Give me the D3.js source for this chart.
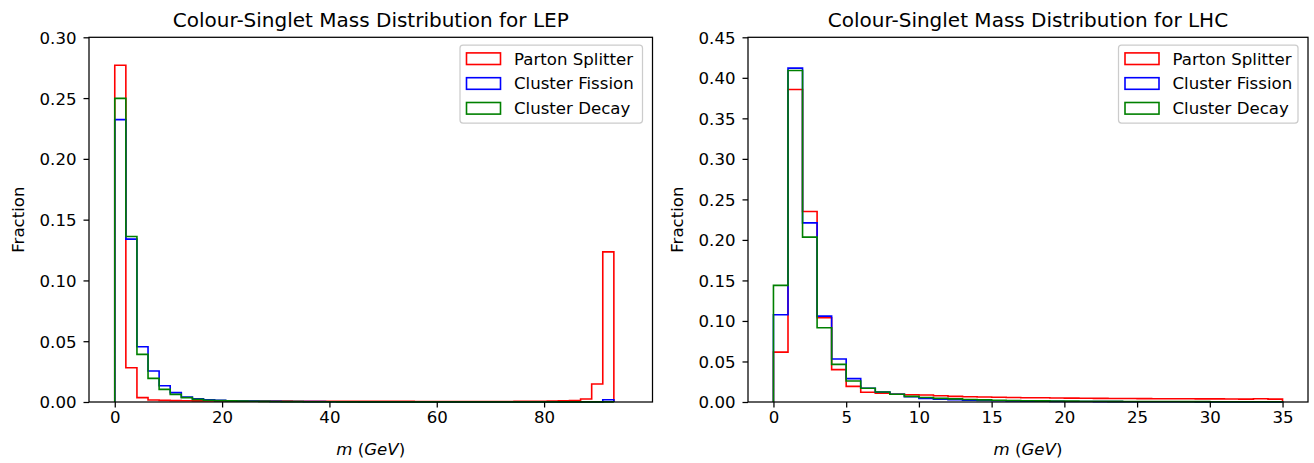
<!DOCTYPE html>
<meta charset="utf-8">
<script src="https://cdn.jsdelivr.net/npm/d3@7"></script>
<style>
body{margin:0;background:#fff;}
svg text{font-family:"DejaVu Sans",sans-serif;fill:#000;}
.tick text{font-size:16.6px;}
.tick line{stroke:#000;stroke-width:1.25;}
</style>
<div id="vis"></div>
<script>

// series names and colours (drawing order)
var seriesNames = ["Parton Splitter", "Cluster Fission", "Cluster Decay"];
var seriesColors = ["#ff0000", "#0000ff", "#008000"];

// LEP: 45 bins from 0 to 93 GeV
var lepBinCount = 45, lepMax = 93;
var lepParton = [0.277, 0.0282, 0.0036, 0.0016, 0.0013, 0.0011, 0.0010, 0.0009, 0.0009, 0.0008,
  0.0008, 0.0008, 0.0007, 0.0007, 0.0007, 0.0007, 0.0006, 0.0006, 0.0006, 0.0006,
  0.0006, 0.0005, 0.0005, 0.0005, 0.0005, 0.0005, 0.0005, 0.0004, 0.0004, 0.0004,
  0.0004, 0.0004, 0.0004, 0.0004, 0.0004, 0.0004, 0.0005, 0.0005, 0.0006, 0.0007,
  0.0009, 0.0012, 0.0025, 0.0148, 0.1235];
var lepFission = [0.2323, 0.134, 0.0455, 0.0255, 0.0134, 0.0077, 0.0041, 0.0027, 0.0018, 0.0013,
  0.0010, 0.0008, 0.0007, 0.0006, 0.0005, 0.0004, 0.0004, 0.0003, 0.0003, 0.0002,
  0.0002, 0.0002, 0.0001, 0.0001, 0.0001, 0.0001, 0.0001, 0.0001, 0.0001, 0.0001,
  0.0001, 0.0001, 0.0001, 0.0001, 0.0001, 0.0001, 0.0001, 0.0001, 0.0001, 0.0001,
  0.0001, 0.0001, 0.0001, 0.0001, 0.0019];
var lepDecay = [0.2498, 0.1362, 0.0392, 0.0194, 0.0104, 0.0063, 0.0036, 0.0022, 0.0015, 0.0011,
  0.0009, 0.0007, 0.0006, 0.0005, 0.0004, 0.0003, 0.0003, 0.0002, 0.0002, 0.0002,
  0.0001, 0.0001, 0.0001, 0.0001, 0.0001, 0.0001, 0.0001, 0.0001, 0.0001, 0.0001,
  0.0001, 0.0001, 0.0001, 0.0001, 0.0001, 0.0001, 0.0001, 0.0001, 0.0001, 0.0001,
  0.0001, 0.0001, 0.0001, 0.0001, 0.0001];
var lepXTicks = [0, 20, 40, 60, 80];
var lepYTicks = [0, 0.05, 0.10, 0.15, 0.20, 0.25, 0.30];

// LHC: 35 bins from 0 to 35 GeV
var lhcBinCount = 35, lhcMax = 35;
var lhcParton = [0.0616, 0.3855, 0.235, 0.104, 0.0399, 0.0193, 0.012, 0.011, 0.0095, 0.009,
  0.0086, 0.0078, 0.0070, 0.0064, 0.0062, 0.0058, 0.0055, 0.0053, 0.0052, 0.0050,
  0.0048, 0.0047, 0.0045, 0.0044, 0.0043, 0.0042, 0.0041, 0.0040, 0.0040, 0.0039,
  0.0038, 0.0037, 0.0036, 0.0040, 0.0035];
var lhcFission = [0.1077, 0.412, 0.221, 0.106, 0.053, 0.0288, 0.0169, 0.0123, 0.0095, 0.0065,
  0.0045, 0.0035, 0.0028, 0.0022, 0.0018, 0.0015, 0.0012, 0.0010, 0.0009, 0.0008,
  0.0007, 0.0006, 0.0005, 0.0005, 0.0004, 0.0004, 0.0003, 0.0003, 0.0003, 0.0002,
  0.0002, 0.0002, 0.0002, 0.0001, 0.0001];
var lhcDecay = [0.1439, 0.409, 0.2034, 0.0917, 0.0464, 0.0259, 0.0169, 0.0123, 0.0095, 0.0070,
  0.0055, 0.0045, 0.0038, 0.0031, 0.0026, 0.0022, 0.0019, 0.0016, 0.0014, 0.0012,
  0.0011, 0.0010, 0.0009, 0.0008, 0.0007, 0.0007, 0.0006, 0.0006, 0.0005, 0.0005,
  0.0004, 0.0004, 0.0004, 0.0003, 0.0003];
var lhcXTicks = [0, 5, 10, 15, 20, 25, 30, 35];
var lhcYTicks = [0, 0.05, 0.10, 0.15, 0.20, 0.25, 0.30, 0.35, 0.40, 0.45];

var W = 1314, H = 463;
var svg = d3.select("#vis").append("svg")
    .attr("width", W)
    .attr("height", H);

function drawPanel(p) {
  var x = d3.scaleLinear().domain(p.xDomain).range([p.left, p.right]);
  var y = d3.scaleLinear().domain([0, p.yMax]).range([p.bottom, p.top]);
  var g = svg.append("g");
  var binW = p.binMax / p.binCount;

  // histogram outlines, step style
  var line = d3.line()
      .x(function(d) { return x(d[0]); })
      .y(function(d) { return y(d[1]); });
  p.series.forEach(function(vals, i) {
    var pts = [[0, 0]];
    vals.forEach(function(v, k) {
      pts.push([k * binW, v]);
      pts.push([(k + 1) * binW, v]);
    });
    pts.push([vals.length * binW, 0]);
    g.append("path")
      .attr("d", line(pts))
      .attr("fill", "none")
      .attr("stroke", seriesColors[i])
      .attr("stroke-width", 1.6)
      .attr("stroke-linejoin", "miter");
  });

  // axes
  var xa = g.append("g")
      .attr("transform", "translate(0," + p.bottom + ")")
      .call(d3.axisBottom(x).tickValues(p.xTicks).tickSize(5.5).tickPadding(4)
        .tickFormat(d3.format("d")));
  xa.select(".domain").remove();
  var ya = g.append("g")
      .attr("transform", "translate(" + p.left + ",0)")
      .call(d3.axisLeft(y).tickValues(p.yTicks).tickSize(5.5).tickPadding(7)
        .tickFormat(d3.format(".2f")));
  ya.select(".domain").remove();
  ya.selectAll(".tick text").attr("dy", "0.36em");

  g.append("rect")
    .attr("x", p.left).attr("y", p.top)
    .attr("width", p.right - p.left).attr("height", p.bottom - p.top)
    .attr("fill", "none").attr("stroke", "#000").attr("stroke-width", 1.25);

  // title and labels
  g.append("text")
    .attr("x", (p.left + p.right) / 2).attr("y", 27)
    .attr("text-anchor", "middle").style("font-size", "20px")
    .text(p.title);

  var xl = g.append("text")
    .attr("x", (p.left + p.right) / 2).attr("y", 455)
    .attr("text-anchor", "middle").style("font-size", "16.6px");
  xl.append("tspan").style("font-style", "italic").text("m");
  xl.append("tspan").text(" (");
  xl.append("tspan").style("font-style", "italic").text("GeV");
  xl.append("tspan").text(")");

  g.append("text")
    .attr("transform", "translate(" + (p.left - 65) + "," + ((p.top + p.bottom) / 2) + ") rotate(-90)")
    .attr("text-anchor", "middle").style("font-size", "16.6px")
    .text("Fraction");

  // legend
  var lg = g.append("g").attr("transform", "translate(" + p.legendX + ",45)");
  lg.append("rect")
    .attr("x", 0).attr("y", 0).attr("width", p.right - 10 - p.legendX).attr("height", 78)
    .attr("rx", 3).attr("fill", "#fff").attr("fill-opacity", 0.8)
    .attr("stroke", "#cccccc").attr("stroke-width", 1.25);
  seriesNames.forEach(function(name, i) {
    var cy = 13.7 + i * 24.8;
    lg.append("rect")
      .attr("x", 6.5).attr("y", cy - 5.8).attr("width", 34).attr("height", 11.6)
      .attr("fill", "none").attr("stroke", seriesColors[i]).attr("stroke-width", 1.6);
    lg.append("text")
      .attr("x", 54).attr("y", cy).attr("dy", "0.36em")
      .style("font-size", "16.6px")
      .text(name);
  });
}

drawPanel({
  title: "Colour-Singlet Mass Distribution for LEP",
  left: 89, right: 652.5, top: 37.3, bottom: 402,
  xDomain: [-4.8, 100.2], yMax: 0.30,
  binCount: lepBinCount, binMax: lepMax,
  series: [lepParton, lepFission, lepDecay],
  xTicks: lepXTicks, yTicks: lepYTicks,
  legendX: 460
});

drawPanel({
  title: "Colour-Singlet Mass Distribution for LHC",
  left: 748, right: 1308, top: 37.3, bottom: 402,
  xDomain: [-1.75, 36.75], yMax: 0.45,
  binCount: lhcBinCount, binMax: lhcMax,
  series: [lhcParton, lhcFission, lhcDecay],
  xTicks: lhcXTicks, yTicks: lhcYTicks,
  legendX: 1118.5
});

</script>
